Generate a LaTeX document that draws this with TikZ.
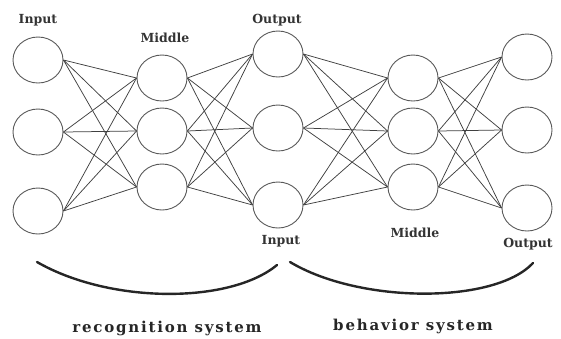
\documentclass[tikz,border=0pt]{standalone}
\usepackage{fontspec}
\setmainfont{DejaVu Serif}
\newfontfamily\sysfont[LetterSpace=12]{DejaVu Serif}
\usetikzlibrary{shapes.geometric}
\begin{document}
\begin{tikzpicture}[x=1pt,y=-1pt,
  neuron/.style={ellipse,draw=black!65,line width=0.9pt,minimum width=50pt,minimum height=46pt,inner sep=0pt},
  link/.style={draw=black!75,line width=0.75pt},
  layerlabel/.style={font=\fontsize{12.5}{14}\selectfont\bfseries,text=black!80,inner sep=0pt},
  syslabel/.style={font=\sysfont\fontsize{15}{17}\selectfont\bfseries,text=black!85,inner sep=0pt},
  brace/.style={draw=black!85,line width=2.4pt,line cap=round}]
\useasboundingbox (0,0) rectangle (561,338);
% neurons
\node[neuron] (a1) at (38,60) {};
\node[neuron] (a2) at (38,132) {};
\node[neuron] (a3) at (38,211) {};
\node[neuron] (b1) at (162,78) {};
\node[neuron] (b2) at (162,131) {};
\node[neuron] (b3) at (162,187) {};
\node[neuron] (c1) at (278,54) {};
\node[neuron] (c2) at (278,128) {};
\node[neuron] (c3) at (278,205) {};
\node[neuron] (d1) at (413,78) {};
\node[neuron] (d2) at (413,131) {};
\node[neuron] (d3) at (413,187) {};
\node[neuron] (e1) at (527,57) {};
\node[neuron] (e2) at (527,130) {};
\node[neuron] (e3) at (527,208) {};
% links
\foreach \l/\r in {a/b,b/c,c/d,d/e}{
  \foreach \i in {1,2,3}{
    \foreach \j in {1,2,3}{
      \draw[link] (\l\i.east) -- (\r\j.west);
    }
  }
}
% layer labels
\node[layerlabel] (t1) at (38,20) {Input};
\node[layerlabel] (t2) at (165,38) {Middle};
\node[layerlabel] (t3) at (277,20) {Output};
\node[layerlabel] (t4) at (281,241) {Input};
\node[layerlabel] (t5) at (415,233) {Middle};
\node[layerlabel] (t6) at (528,244) {Output};
% braces
\coordinate (r0) at (37,262);
\coordinate (r1) at (277,265);
\coordinate (s0) at (290,262);
\coordinate (s1) at (533,263);
\draw[brace] (r0) .. controls (110,304) and (230,304) .. (r1);
\draw[brace] (s0) .. controls (360,304) and (495,304) .. (s1);
\node[syslabel] (recog) at (167,328) {recognition system};
\node[syslabel] (behav) at (413,326) {behavior system};
\end{tikzpicture}
\end{document}
